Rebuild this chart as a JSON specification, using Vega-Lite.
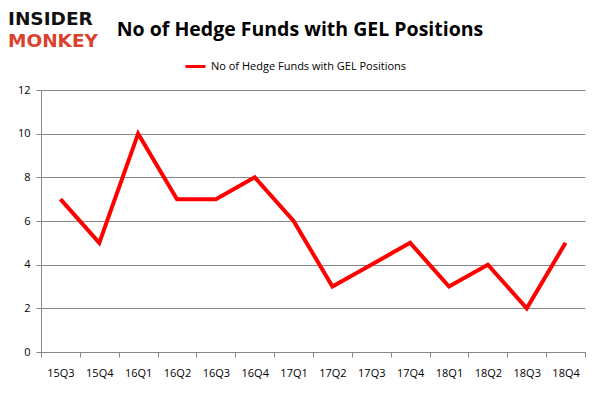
{
  "$schema": "https://vega.github.io/schema/vega-lite/v6.json",
  "width": 544,
  "height": 262,
  "autosize": {"type": "none"},
  "padding": {"left": 41, "top": 90, "right": 17, "bottom": 46},
  "background": "white",
  "title": {
    "text": "No of Hedge Funds with GEL Positions",
    "anchor": "middle",
    "frame": "group",
    "dx": -13,
    "offset": -30,
    "fontSize": 19.5,
    "fontWeight": "bold",
    "font": "Open Sans",
    "color": "#000000"
  },
  "config": {
    "view": {"stroke": null},
    "font": "Open Sans"
  },
  "data": {
    "values": [
      {"q": "15Q3", "v": 7, "s": "No of Hedge Funds with GEL Positions"},
      {"q": "15Q4", "v": 5, "s": "No of Hedge Funds with GEL Positions"},
      {"q": "16Q1", "v": 10, "s": "No of Hedge Funds with GEL Positions"},
      {"q": "16Q2", "v": 7, "s": "No of Hedge Funds with GEL Positions"},
      {"q": "16Q3", "v": 7, "s": "No of Hedge Funds with GEL Positions"},
      {"q": "16Q4", "v": 8, "s": "No of Hedge Funds with GEL Positions"},
      {"q": "17Q1", "v": 6, "s": "No of Hedge Funds with GEL Positions"},
      {"q": "17Q2", "v": 3, "s": "No of Hedge Funds with GEL Positions"},
      {"q": "17Q3", "v": 4, "s": "No of Hedge Funds with GEL Positions"},
      {"q": "17Q4", "v": 5, "s": "No of Hedge Funds with GEL Positions"},
      {"q": "18Q1", "v": 3, "s": "No of Hedge Funds with GEL Positions"},
      {"q": "18Q2", "v": 4, "s": "No of Hedge Funds with GEL Positions"},
      {"q": "18Q3", "v": 2, "s": "No of Hedge Funds with GEL Positions"},
      {"q": "18Q4", "v": 5, "s": "No of Hedge Funds with GEL Positions"}
    ]
  },
  "layer": [
    {
      "mark": {"type": "line", "strokeWidth": 4, "strokeJoin": "miter"},
      "encoding": {
        "x": {
          "field": "q",
          "type": "ordinal",
          "sort": null,
          "scale": {"type": "band", "paddingInner": 0, "paddingOuter": 0},
          "axis": {
            "title": null,
            "labelAngle": 0,
            "labelFontSize": 11,
            "labelColor": "#000000",
            "labelPadding": 10,
            "tickBand": "extent",
            "tickSize": 5,
            "tickColor": "#868686",
            "domainColor": "#868686",
            "grid": false
          }
        },
        "y": {
          "field": "v",
          "type": "quantitative",
          "scale": {"domain": [0, 12], "nice": false},
          "axis": {
            "title": null,
            "values": [0, 2, 4, 6, 8, 10, 12],
            "labelFontSize": 11,
            "labelColor": "#000000",
            "labelPadding": 6,
            "tickSize": 5,
            "tickColor": "#868686",
            "domainColor": "#868686",
            "gridColor": "#868686",
            "grid": true
          }
        },
        "color": {
          "field": "s",
          "type": "nominal",
          "scale": {"range": ["#ff0000"]},
          "legend": {
            "title": null,
            "orient": "none",
            "legendX": 143,
            "legendY": -35,
            "symbolType": "stroke",
            "symbolStrokeWidth": 3,
            "symbolSize": 400,
            "labelFontSize": 11,
            "labelLimit": 0,
            "labelColor": "#000000"
          }
        }
      }
    },
    {
      "data": {"values": [{"t": "INSIDER"}]},
      "mark": {"type": "text", "x": -33, "y": -71, "align": "left", "baseline": "middle", "fontSize": 18.5, "fontWeight": "bold", "font": "DejaVu Sans", "color": "#111111"},
      "encoding": {"text": {"field": "t"}}
    },
    {
      "data": {"values": [{"t": "MONKEY"}]},
      "mark": {"type": "text", "x": -33, "y": -49, "align": "left", "baseline": "middle", "fontSize": 18.5, "fontWeight": "bold", "font": "DejaVu Sans", "color": "#d9412c"},
      "encoding": {"text": {"field": "t"}}
    }
  ]
}
